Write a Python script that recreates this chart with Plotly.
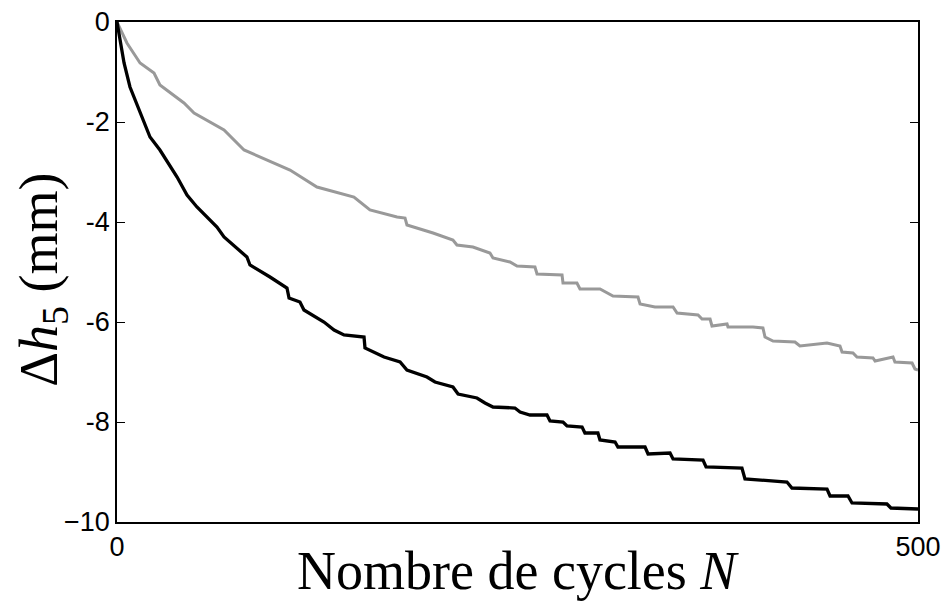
"""Settlement of layer 5 versus number of cycles."""

import plotly.graph_objects as go

# grey curve (upper)
gray_n = [0, 6.2, 14.4, 23.1, 26.8, 41.8, 48.1, 66.8, 79.3, 93.6, 108.0, 124.8, 147.9, 157.9,
          174.8, 179.8, 181.0, 197.3, 209.7, 212.2, 222.2, 232.8, 234.7, 245.3, 249.7, 260.9,
          262.2, 277.8, 278.4, 287.1, 289.0, 301.5, 309.6, 325.2, 326.5, 335.8, 347.1, 349.6,
          362.7, 365.2, 370.2, 371.4, 380.8, 381.4, 397.0, 403.2, 404.5, 409.5, 423.2, 426.3,
          443.2, 451.3, 452.6, 459.4, 461.9, 471.9, 473.2, 484.4, 485.6, 496.3, 498.1, 500]
gray_dh = [0, -0.42, -0.82, -1.02, -1.26, -1.62, -1.82, -2.16, -2.56, -2.76, -2.96, -3.30, -3.50, -3.76,
           -3.90, -3.92, -4.06, -4.22, -4.36, -4.46, -4.50, -4.62, -4.72, -4.80, -4.88, -4.90,
           -5.04, -5.06, -5.22, -5.22, -5.34, -5.34, -5.48, -5.50, -5.64, -5.70, -5.70, -5.82,
           -5.86, -5.94, -5.94, -6.08, -6.04, -6.10, -6.10, -6.12, -6.30, -6.38, -6.40, -6.48,
           -6.42, -6.48, -6.60, -6.62, -6.70, -6.72, -6.78, -6.70, -6.80, -6.82, -6.94, -6.96]

# black curve (lower)
black_n = [0, 1.9, 4.4, 8.1, 14.4, 20.6, 26.8, 37.5, 43.7, 49.9, 62.4, 66.8, 81.1, 83.0, 95.5,
           106.1, 107.4, 114.2, 116.7, 129.2, 135.5, 141.7, 154.2, 154.8, 166.7, 176.7, 181.0,
           193.5, 198.5, 209.7, 212.9, 224.7, 229.7, 234.7, 248.4, 251.6, 257.8, 268.4, 270.3,
           278.4, 280.9, 290.3, 292.1, 300.2, 301.5, 310.9, 312.7, 329.6, 331.5, 345.2, 347.1,
           365.8, 367.7, 390.1, 392.0, 418.2, 421.3, 443.2, 445.1, 456.3, 458.8, 480.6, 483.1, 500]
black_dh = [0, -0.36, -0.82, -1.30, -1.82, -2.30, -2.56, -3.10, -3.46, -3.70, -4.10, -4.30, -4.70, -4.86, -5.10,
            -5.32, -5.52, -5.60, -5.76, -6.00, -6.16, -6.26, -6.30, -6.52, -6.70, -6.80, -6.96,
            -7.10, -7.20, -7.30, -7.44, -7.52, -7.62, -7.70, -7.72, -7.80, -7.86, -7.86, -7.98,
            -8.00, -8.08, -8.10, -8.22, -8.22, -8.36, -8.40, -8.50, -8.50, -8.64, -8.62, -8.74,
            -8.76, -8.90, -8.92, -9.14, -9.20, -9.32, -9.34, -9.48, -9.48, -9.62, -9.64, -9.72, -9.74]

y_ticks = [0, -2, -4, -6, -8, -10]
y_tick_text = ["0", "-2", "-4", "-6", "-8", "\u221210"]
x_ticks = [0, 500]

fig = go.Figure()
fig.add_trace(go.Scatter(x=gray_n, y=gray_dh, mode="lines", line=dict(color="#999999", width=3)))
fig.add_trace(go.Scatter(x=black_n, y=black_dh, mode="lines", line=dict(color="#000000", width=3.3)))

axis_common = dict(
    showline=True, linecolor="black", linewidth=1.5, mirror="ticks", ticks="inside",
    ticklen=8, tickcolor="black", tickwidth=1, showgrid=False, zeroline=False,
    ticklabeloverflow="allow", automargin=False,
    tickfont=dict(family="Liberation Sans, Arial", size=27, color="black"),
)
fig.update_xaxes(range=[0, 500], tickvals=x_ticks, ticktext=[str(v) for v in x_ticks], **axis_common)
fig.update_yaxes(range=[-10, 0], tickvals=y_ticks, ticktext=y_tick_text, **axis_common)

title_font = dict(family="Liberation Serif, Times New Roman", size=54, color="black")
fig.add_annotation(text="Nombre de cycles <i>N</i>", xref="paper", yref="paper", x=0.5, y=-0.098,
                   xanchor="center", yanchor="middle", showarrow=False, font=title_font)
fig.add_annotation(text="\u0394<i>h</i><sub>5</sub> (mm)", xref="paper", yref="paper", x=-0.094, y=0.484,
                   xanchor="center", yanchor="middle", textangle=-90, showarrow=False, font=title_font)

fig.update_layout(
    width=943, height=606, showlegend=False,
    plot_bgcolor="white", paper_bgcolor="white",
    margin=dict(l=117, r=25, t=22, b=84),
)
# drop the default body margin so the figure sits at the page corner
fig.write_html("out.html", config={"displayModeBar": False},
               post_script="document.body.style.margin = '0';")
